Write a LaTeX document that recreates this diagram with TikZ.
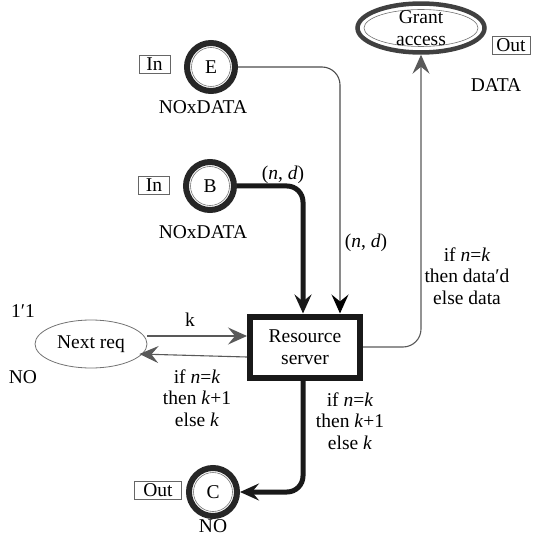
\documentclass[tikz,border=0pt]{standalone}
\usepackage{fontspec}
\setmainfont{Liberation Serif}
\usetikzlibrary{arrows.meta,shapes.geometric,positioning}

\tikzset{
  place/.style={circle, draw=black!85, line width=6pt, minimum size=48pt, inner sep=0pt,
    path picture={\draw[black!55, line width=0.6pt] (path picture bounding box.center) circle (19.5pt);}},
  grantplace/.style={ellipse, draw=black!75, line width=4.5pt, minimum width=127pt, minimum height=46pt,
    inner sep=0pt, align=center,
    path picture={\draw[black!55, line width=0.6pt] (path picture bounding box.center) ellipse (57pt and 18.5pt);}},
  plainplace/.style={ellipse, draw=black!55, line width=0.8pt, minimum width=112pt, minimum height=48pt, inner sep=0pt},
  trans/.style={rectangle, draw=black!90, line width=6pt, minimum width=110pt, minimum height=61pt, align=center},
  port/.style={rectangle, draw=black!60, line width=0.7pt, inner sep=1pt, minimum height=18pt},
  lbl/.style={align=center, inner sep=0pt},
  tip/.style={-{Stealth[length=19pt, width=17pt, inset=7pt]}},
  thickarc/.style={tip, draw=black!90, line width=5pt, rounded corners=16pt},
  thinarc/.style={tip, draw=black!65, line width=1.1pt, rounded corners=18pt},
}

\begin{document}
\begin{tikzpicture}[x=1pt, y=-1pt, font=\fontsize{19.5pt}{21.5pt}\selectfont]
    \useasboundingbox (0,0) rectangle (536,537);

    % Define nodes
    \node[place]                       (e) at (211,67) {E};
    \node[port, minimum width=31pt]    (e-in) at (154.5,64) {In};
    \node[lbl]                         (e-type) at (203,107) {NOxDATA};
    \node[place]                       (b) at (210,186) {B};
    \node[port, minimum width=31pt]    (b-in) at (154,185) {In};
    \node[lbl]                         (b-type) at (203,232) {NOxDATA};
    \node[place]                       (c) at (213,492) {C};
    \node[port, minimum width=47pt]    (c-out) at (158,490) {Out};
    \node[lbl]                         (c-type) at (213,526) {NO};
    \node[grantplace]                  (grant) at (421,28) {Grant\\access};
    \node[port, minimum width=38pt]    (grant-out) at (511,45) {Out};
    \node[lbl]                         (grant-type) at (496,85) {DATA};
    \node[plainplace]                  (next) at (91,344) {Next req};
    \node[lbl]                         (next-init) at (23,311) {1′1};
    \node[lbl]                         (next-type) at (23,377) {NO};
    \node[trans]                       (server) at (305,347) {Resource\\server};

    % Connect the nodes
    \draw[thickarc] (b.east) -| ([xshift=-2pt]server.north);
    \draw[thinarc, draw=black!70, -{Stealth[length=19pt, width=17pt, inset=7pt, color=black, fill=black]}]
      (e.east) -| ([xshift=35pt]server.north);
    \draw[thinarc] (server.east) -| (grant.south);
    \draw[thinarc] ([yshift=8pt]next.east) -- ([yshift=8pt]next.east -| server.west);
    \draw[thinarc] ([yshift=-10pt]server.west) -- ([xshift=-8pt,yshift=-10pt]next.east);
    \draw[thickarc] ([xshift=-2pt]server.south) |- (c.east);

    % Arc inscriptions
    \node[lbl] (b-insc) at (283,175) {(\textit{n}, \textit{d})};
    \node[lbl] (e-insc) at (366,243) {(\textit{n}, \textit{d})};
    \node[lbl] (k-insc) at (190,320) {k};
    \node[lbl] (back-insc) at (197,398) {if \textit{n}=\textit{k}\\then \textit{k}+1\\else \textit{k}};
    \node[lbl] (grant-insc) at (467,276) {if \textit{n}=\textit{k}\\then data′d\\else data};
    \node[lbl] (c-insc) at (350,421) {if \textit{n}=\textit{k}\\then \textit{k}+1\\else \textit{k}};

\end{tikzpicture}
\end{document}
